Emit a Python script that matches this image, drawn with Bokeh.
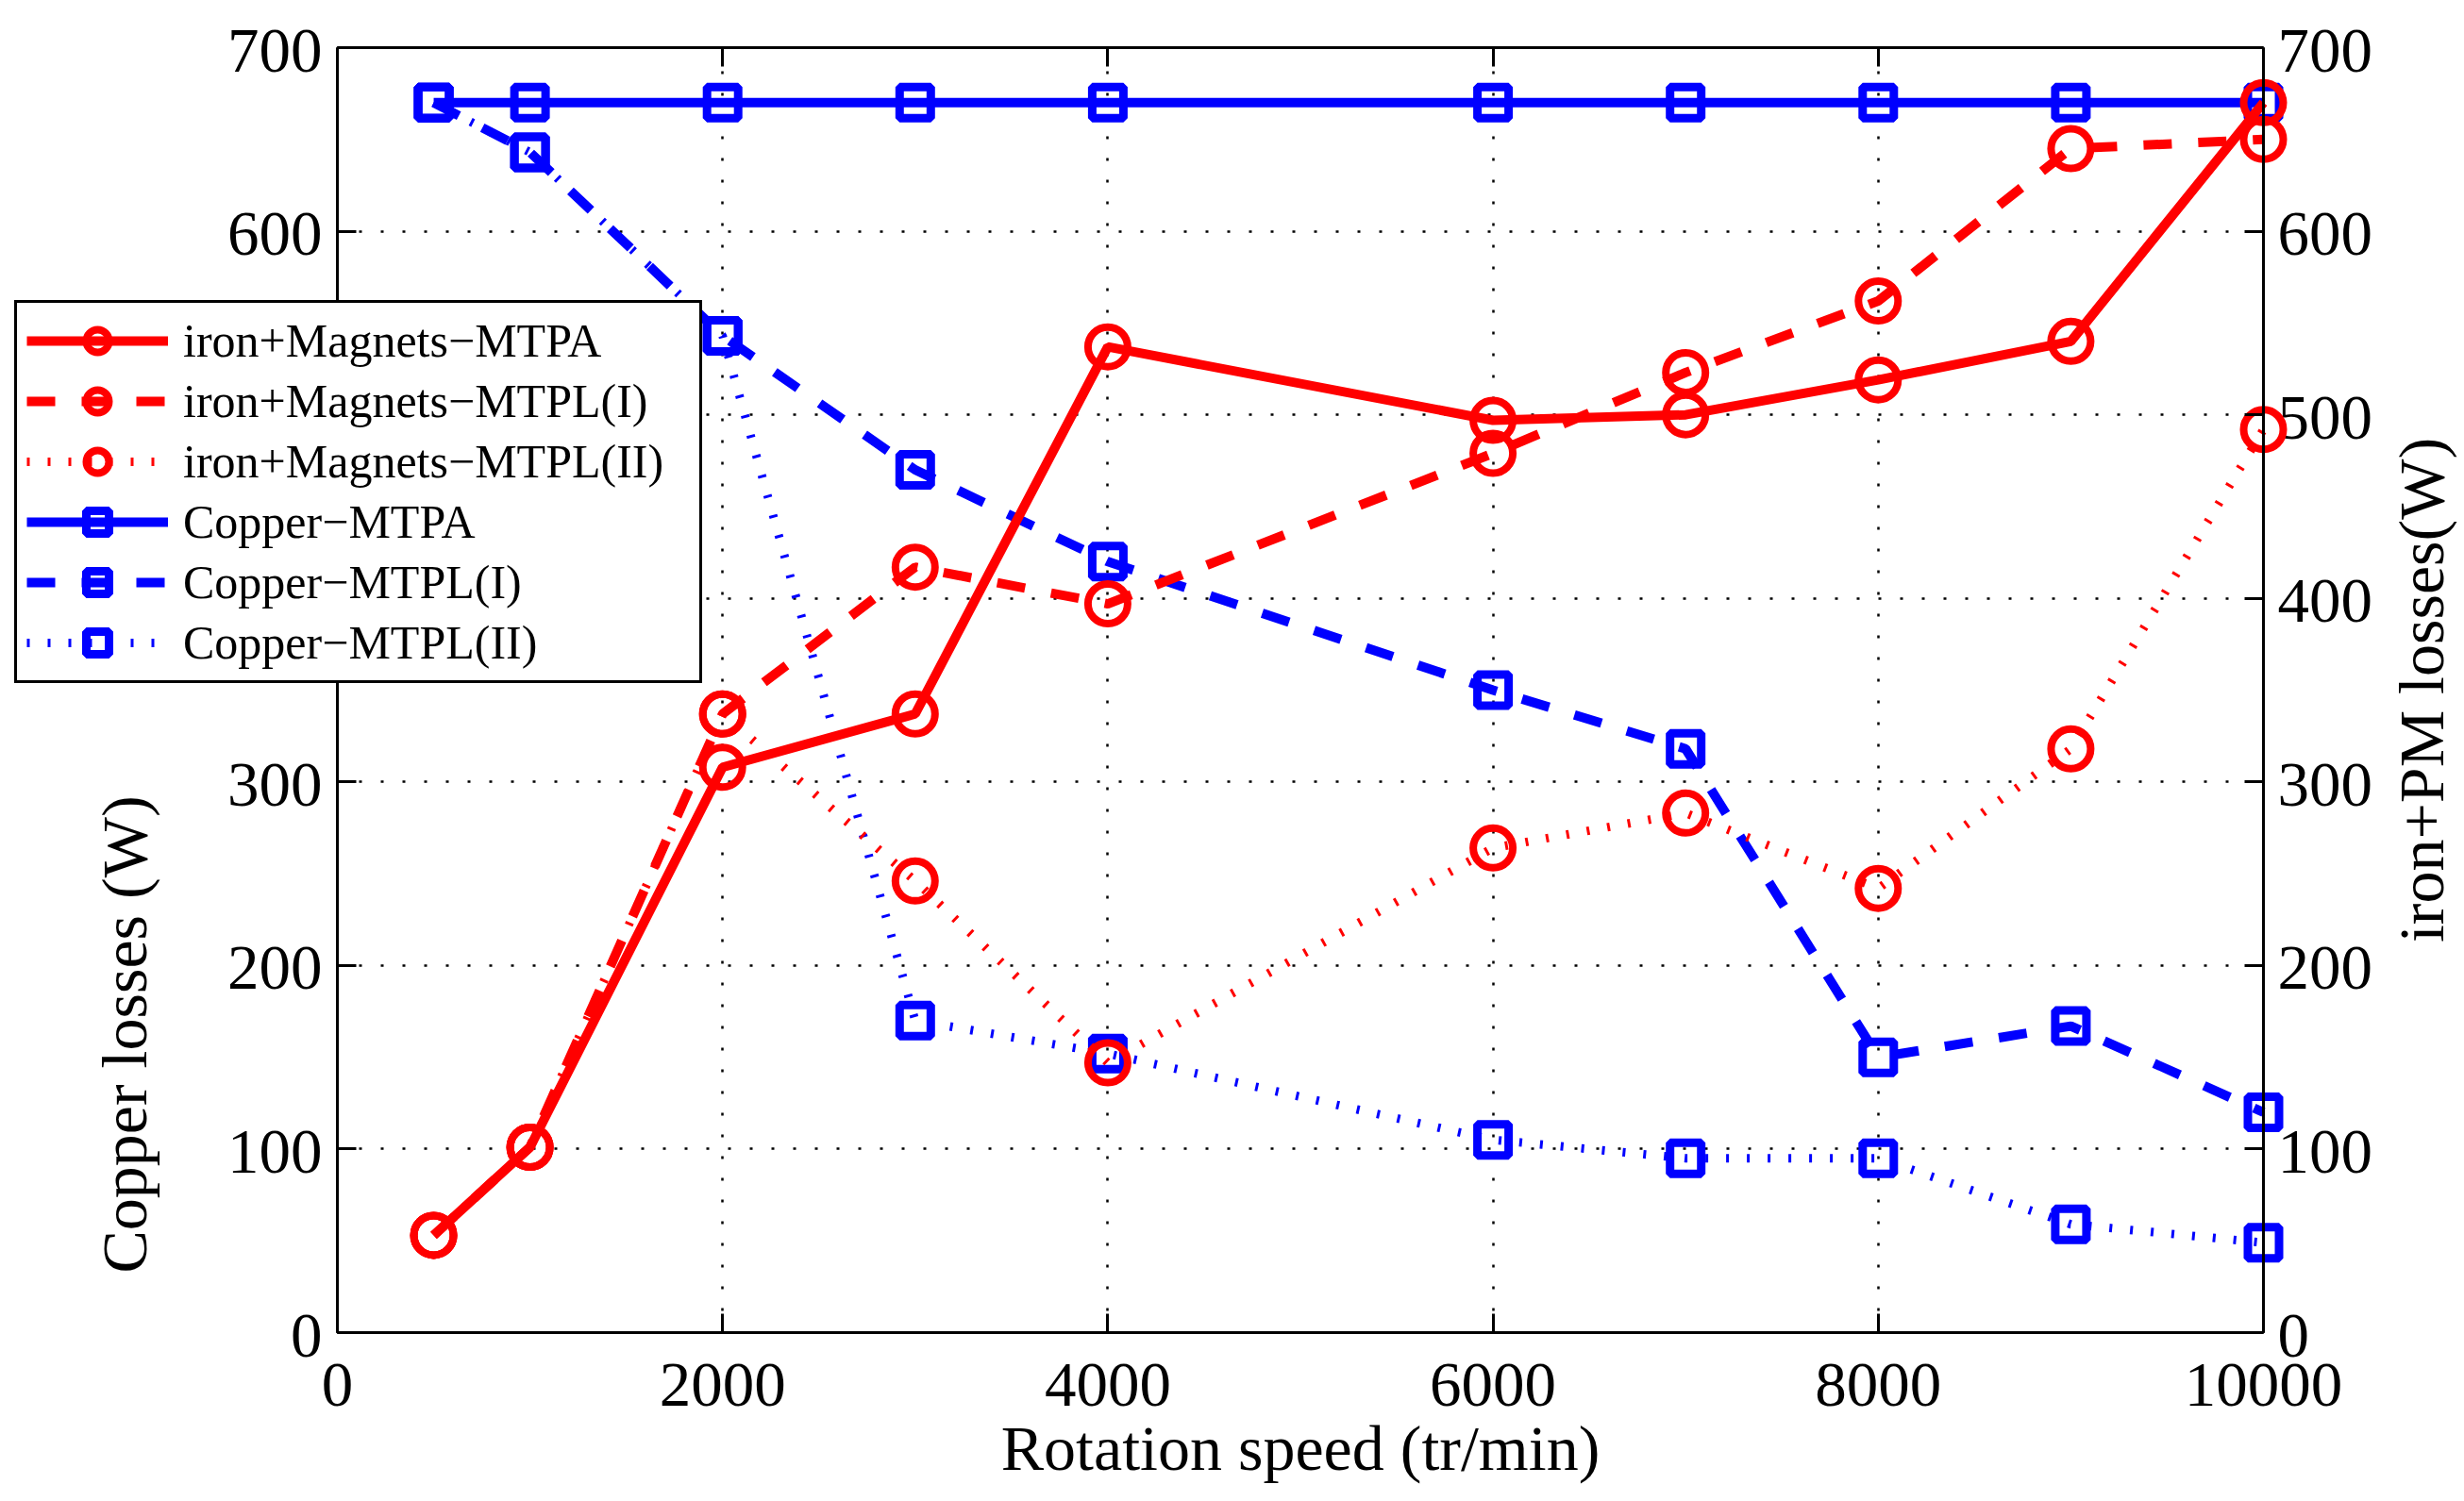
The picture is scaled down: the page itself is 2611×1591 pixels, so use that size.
import math
from bokeh.plotting import figure
from bokeh.models import (Range1d, LinearAxis, FixedTicker, Legend, LegendItem, Label, Grid)
from bokeh.embed import file_html
from bokeh.resources import INLINE

# ---------------- data ----------------
speed = [500, 1000, 2000, 3000, 4000, 6000, 7000, 8000, 9000, 10000]
iron_mtpa = [53, 101, 308, 337, 537, 497, 500, 519, 540, 670]
iron_mtpl1 = [53, 101, 337, 417, 397, 479, 523, 562, 645, 650]
iron_mtpl2 = [53, 101, 337, 246, 147, 264, 283, 242, 318, 492]
copper_mtpa = [670, 670, 670, 670, 670, 670, 670, 670, 670, 670]
copper_mtpl1 = [670, 643, 543, 470, 420, 350, 318, 150, 167, 120]
copper_mtpl2 = [670, 643, 543, 170, 152, 105, 95, 95, 59, 49]

x_ticks = [0, 2000, 4000, 6000, 8000, 10000]
x_tick_labels = ["0", "2000", "4000", "6000", "8000", "10000"]
y_ticks = [0, 100, 200, 300, 400, 500, 600, 700]
y_tick_labels = ["0", "100", "200", "300", "400", "500", "600", "700"]

series_labels = ["iron+Magnets\u2212MTPA", "iron+Magnets\u2212MTPL(I)", "iron+Magnets\u2212MTPL(II)",
                 "Copper\u2212MTPA", "Copper\u2212MTPL(I)", "Copper\u2212MTPL(II)"]
x_label = "Rotation speed (tr/min)"
y_left_label = "Copper losses (W)"
y_right_label = "iron+PM losses(W)"

# ---------------- layout constants (canvas pixels) ----------------
FONT = "Liberation Serif"
RED = "#ff0000"
BLUE = "#0000ff"
W, H = 2611, 1591
M = 2                                   # frame inset from canvas edge
BOX_L, BOX_R, BOX_T, BOX_B = 357, 2398, 50, 1412
X_MIN, X_MAX = 0, 10000
Y_MIN, Y_MAX = 0, 700
PXU = (BOX_R - BOX_L) / (X_MAX - X_MIN)          # px per x unit
PYU = (BOX_B - BOX_T) / (Y_MAX - Y_MIN)          # px per y unit
BASE_SHIFT = 23                                   # alphabetic-baseline correction


def dx(px):      # horizontal pixel offset -> data units
    return px / PXU


def dy(px):      # vertical pixel offset -> data units
    return px / PYU


x_range = Range1d(X_MIN - dx(BOX_L - M), X_MAX + dx(W - M - BOX_R))
y_range = Range1d(Y_MIN - dy(H - M - BOX_B), Y_MAX + dy(BOX_T - M))

p = figure(width=W, height=H, output_backend="svg", toolbar_location=None,
           x_range=x_range, y_range=y_range,
           x_axis_location=None, y_axis_location=None,
           min_border_left=M, min_border_right=M, min_border_top=M, min_border_bottom=M)
p.extra_y_ranges = {"right": Range1d(y_range.start, y_range.end)}
p.background_fill_color = "white"
p.border_fill_color = "white"
p.outline_line_color = None
# drop default grids
p.center = [r for r in p.center if not isinstance(r, Grid)]

xt = FixedTicker(ticks=x_ticks)
yt = FixedTicker(ticks=y_ticks)


def make_axis(ticker, **kw):
    ax = LinearAxis(ticker=ticker, **kw)
    ax.axis_line_color = "black"
    ax.axis_line_width = 3
    ax.major_tick_line_color = "black"
    ax.major_tick_line_width = 3
    ax.major_tick_in = 20
    ax.major_tick_out = 0
    ax.minor_tick_line_color = None
    ax.major_label_text_color = None   # labels drawn as text below
    ax.major_label_standoff = 0
    return ax


p.add_layout(make_axis(xt, fixed_location=Y_MIN, bounds=(X_MIN, X_MAX)), "below")
p.add_layout(make_axis(xt, fixed_location=Y_MAX, bounds=(X_MIN, X_MAX)), "above")
p.add_layout(make_axis(yt, fixed_location=X_MIN, bounds=(Y_MIN, Y_MAX)), "left")
p.add_layout(make_axis(yt, fixed_location=X_MAX, bounds=(Y_MIN, Y_MAX), y_range_name="right"), "right")

# dotted grid limited to the axes box
xg = Grid(dimension=0, ticker=xt, grid_line_color="black", grid_line_width=2.5, grid_line_dash="3 20")
yg = Grid(dimension=1, ticker=yt, grid_line_color="black", grid_line_width=2.5, grid_line_dash="3 20")
if "cross_bounds" in Grid.properties():
    yg.cross_bounds = (X_MIN, X_MAX)
    xg.cross_bounds = (Y_MIN, Y_MAX)
p.add_layout(xg, "center")
p.add_layout(yg, "center")

# tick labels
TICK_FS = "67px"
p.text(x=x_ticks, y=[Y_MIN - dy(55)] * len(x_ticks), text=x_tick_labels,
       text_font=FONT, text_font_size=TICK_FS, text_align="center", text_baseline="middle",
       text_color="black")
p.text(x=[X_MIN - dx(16)] * len(y_ticks), y=[v - dy(3) for v in y_ticks], text=y_tick_labels,
       text_font=FONT, text_font_size=TICK_FS, text_align="right", text_baseline="middle",
       text_color="black")
p.text(x=[X_MAX + dx(15)] * len(y_ticks), y=[v - dy(3) for v in y_ticks], text=y_tick_labels,
       text_font=FONT, text_font_size=TICK_FS, text_align="left", text_baseline="middle",
       text_color="black", y_range_name="right")

LW = 10
DOT_LW = 9
DASH = "30 28"
DOT = "3 19"

renderers = {}
# copper (left axis) drawn first
for key, ys, dash in (("c1", copper_mtpa, "solid"), ("c2", copper_mtpl1, DASH), ("c3", copper_mtpl2, DOT)):
    l = p.line(speed, ys, line_color=BLUE, line_width=DOT_LW if dash == DOT else LW, line_dash=dash)
    m = p.scatter(speed, ys, marker="square", size=33, line_color=BLUE, line_width=9,
                  fill_color=None)
    renderers[key] = [l, m]
# iron + magnets (right axis)
for key, ys, dash in (("r1", iron_mtpa, "solid"), ("r2", iron_mtpl1, DASH), ("r3", iron_mtpl2, DOT)):
    l = p.line(speed, ys, line_color=RED, line_width=DOT_LW if dash == DOT else LW, line_dash=dash,
               y_range_name="right")
    m = p.scatter(speed, ys, marker="circle", size=42, line_color=RED, line_width=8,
                  fill_color=None, y_range_name="right")
    renderers[key] = [l, m]

items = [LegendItem(label=series_labels[i], renderers=renderers[k])
         for i, k in enumerate(["r1", "r2", "r3", "c1", "c2", "c3"])]
legend = Legend(items=items, location=(15 - M, (H - M) - 724),
                label_text_font=FONT, label_text_font_size="50px", label_text_color="black",
                glyph_width=150, glyph_height=60, spacing=4, padding=10, margin=0,
                label_standoff=16, label_width=537, label_height=20,
                border_line_color="black", border_line_width=3, border_line_alpha=1.0,
                background_fill_color="white", background_fill_alpha=1.0)
p.add_layout(legend, "center")

LABEL_FS = "68px"
# left y label
p.add_layout(Label(x=X_MIN - dx(BOX_L - 154 + BASE_SHIFT), y=Y_MIN + dy(BOX_B - 1096),
                   text=y_left_label, angle=math.pi / 2,
                   text_align="center", text_baseline="alphabetic",
                   text_font=FONT, text_font_size=LABEL_FS, text_color="black"))
# right y label
p.add_layout(Label(x=X_MAX + dx(2588 - BOX_R - BASE_SHIFT), y=(Y_MIN + Y_MAX) / 2,
                   text=y_right_label, angle=math.pi / 2,
                   text_align="center", text_baseline="alphabetic",
                   text_font=FONT, text_font_size=LABEL_FS, text_color="black"))
# x label
p.add_layout(Label(x=(X_MIN + X_MAX) / 2, y=Y_MIN - dy(1557 - BOX_B - BASE_SHIFT),
                   text=x_label, text_align="center", text_baseline="alphabetic",
                   text_font=FONT, text_font_size=LABEL_FS, text_color="black"))

open("out.html", "w").write(file_html(p, INLINE))
